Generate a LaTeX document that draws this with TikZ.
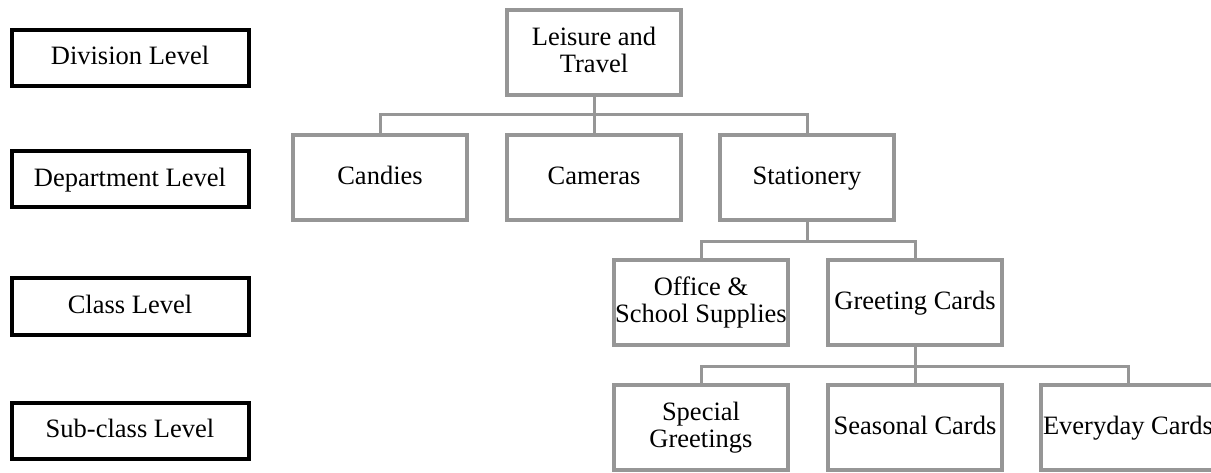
\documentclass[tikz,border=0pt]{standalone}
\usepackage{fontspec}
\setmainfont{Liberation Serif}
\definecolor{boxgray}{RGB}{150,150,150}
\newcommand\lnstrut{\rule[-5.3pt]{0pt}{24.3pt}}
\begin{document}
\begin{tikzpicture}[x=1pt,y=-1pt,
  every node/.style={font=\fontsize{26.5}{27}\selectfont, inner sep=0pt, align=center, execute at begin node=\lnstrut},
  levelbox/.style={draw=black, line width=4pt, minimum width=237pt, minimum height=56pt},
  catbox/.style={draw=boxgray, line width=4pt, minimum width=174pt, minimum height=85pt},
  conn/.style={draw=boxgray, line width=3pt}]
\useasboundingbox (0,0) rectangle (1211,473);
% level boxes
\node[levelbox] (div) at (130,58) {Division Level};
\node[levelbox] (dep) at (130,179.5) {Department Level};
\node[levelbox] (cls) at (130,306.5) {Class Level};
\node[levelbox] (sub) at (130,431) {Sub-class Level};
% hierarchy
\node[catbox] (lt) at (594,52.5) {Leisure and\\\lnstrut Travel};
\node[catbox] (can) at (380,177.5) {Candies};
\node[catbox] (cam) at (594,177.5) {Cameras};
\node[catbox] (sta) at (807,177.5) {Stationery};
\node[catbox] (off) at (701,302.5) {Office \&\\\lnstrut School Supplies};
\node[catbox] (gre) at (915,302.5) {Greeting Cards};
\node[catbox] (spe) at (701,427.5) {Special\\\lnstrut Greetings};
\node[catbox] (sea) at (915,427.5) {Seasonal Cards};
\node[catbox] (eve) at (1128,427.5) {Everyday Cards};
% connectors
\coordinate (b1) at (594,115);
\coordinate (b2) at (807,242);
\coordinate (b3) at (915,366);
\draw[conn] (lt.south) -- (b1);
\draw[conn] (b1) -| (can.north);
\draw[conn] (b1) -- (cam.north);
\draw[conn] (b1) -| (sta.north);
\draw[conn] (sta.south) -- (b2);
\draw[conn] (b2) -| (off.north);
\draw[conn] (b2) -| (gre.north);
\draw[conn] (gre.south) -- (b3);
\draw[conn] (b3) -| (spe.north);
\draw[conn] (b3) -- (sea.north);
\draw[conn] (b3) -| (eve.north);
\end{tikzpicture}
\end{document}
